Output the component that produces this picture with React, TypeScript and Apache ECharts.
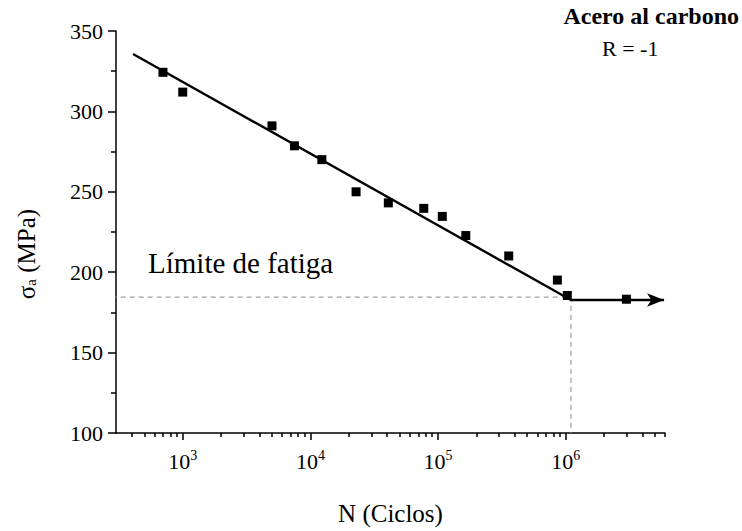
import React, { useEffect, useRef } from 'react';
import * as echarts from 'echarts';

// Measured fatigue data (cycles N, stress amplitude σa in MPa)
const cyclesData = [700, 1000, 5000, 7500, 12300, 22800, 40800, 77300, 108000, 165000, 358000, 861000, 1030000, 2990000];
const stressData = [324.3, 312, 291, 278.6, 270, 250, 243.1, 239.7, 234.7, 222.8, 210.1, 195.1, 185.5, 183.2];

// Basquin fit line + endurance plateau (last point carries the arrow head)
const fitCycles = [408, 1100000, 5900000];
const fitStress = [335.7, 182.7, 182.7];

// Fatigue-limit guide lines
const guideCycles = [236, 1100000, 1100000];
const guideStress = [184.5, 184.5, 100];

// Axis ticks
const xMajorTicks = [1e3, 1e4, 1e5, 1e6];
const xMinorTicks = [
  400, 500, 600, 700, 800, 900,
  2000, 3000, 4000, 5000, 6000, 7000, 8000, 9000,
  20000, 30000, 40000, 50000, 60000, 70000, 80000, 90000,
  200000, 300000, 400000, 500000, 600000, 700000, 800000, 900000,
  2000000, 3000000, 4000000, 5000000, 6000000,
];
const xMin = 300;
const xMax = 6000000;
const yMin = 100;
const yMax = 350;
const yStep = 50;

const SERIF = 'Liberation Serif';

export default function App() {
  const ref = useRef<HTMLDivElement>(null);

  useEffect(() => {
    document.body.style.margin = '0';
    if (!ref.current) return;
    const chart = echarts.init(ref.current, undefined, { renderer: 'svg' });
    const black = '#000';

    const scatterData = cyclesData.map((c, i) => [c, stressData[i]]);
    const fitData: any[] = fitCycles.map((c, i) => {
      if (i === fitCycles.length - 1) {
        return { value: [c, fitStress[i]], symbol: 'arrow', symbolSize: [10, 17], symbolRotate: -90 };
      }
      return { value: [c, fitStress[i]], symbol: 'none' };
    });
    const guideData = guideCycles.map((c, i) => [c, guideStress[i]]);

    const option: any = {
      animation: false,
      textStyle: { fontFamily: SERIF },
      grid: { left: 116, right: 77, top: 31, bottom: 94 },
      xAxis: [
        {
          type: 'log',
          logBase: 10,
          min: xMin,
          max: xMax,
          position: 'bottom',
          axisLine: { show: true, lineStyle: { color: black, width: 1.5 } },
          axisTick: { show: true, inside: false, length: 7, customValues: xMajorTicks, lineStyle: { color: black, width: 1.5 } },
          minorTick: { show: false },
          splitLine: { show: false },
          axisLabel: {
            customValues: xMajorTicks,
            margin: 15,
            formatter: (v: number) => `{b|10}{s|${Math.round(Math.log10(v))}}`,
            rich: {
              b: { fontFamily: SERIF, fontSize: 22, color: black },
              s: { fontFamily: SERIF, fontSize: 14, color: black, verticalAlign: 'top', padding: [0, 0, 12, 0] },
            },
          },
          name: 'N (Ciclos)',
          nameLocation: 'middle',
          nameGap: 68,
          nameTextStyle: { fontFamily: SERIF, fontSize: 25, color: black },
        },
        {
          type: 'log',
          logBase: 10,
          min: xMin,
          max: xMax,
          position: 'bottom',
          axisLine: { show: false },
          axisTick: { show: true, inside: false, length: 4, customValues: xMinorTicks, lineStyle: { color: black, width: 1.5 } },
          axisLabel: { show: false },
          splitLine: { show: false },
        },
      ],
      yAxis: {
        type: 'value',
        min: yMin,
        max: yMax,
        interval: yStep,
        axisLine: { show: true, lineStyle: { color: black, width: 1.5 } },
        axisTick: { show: true, inside: false, length: 8, lineStyle: { color: black, width: 1.5 } },
        minorTick: { show: true, splitNumber: 2, length: 5, lineStyle: { color: black, width: 1.5 } },
        splitLine: { show: false },
        minorSplitLine: { show: false },
        axisLabel: { fontFamily: SERIF, fontSize: 22, color: black, margin: 13 },
      },
      series: [
        {
          type: 'line',
          data: guideData,
          xAxisIndex: 0,
          clip: false,
          symbol: 'none',
          lineStyle: { color: '#8a8a8a', width: 1, type: [5, 4] },
          z: 1,
          silent: true,
        },
        {
          type: 'line',
          data: fitData,
          xAxisIndex: 0,
          clip: false,
          showSymbol: true,
          itemStyle: { color: black, opacity: 1 },
          lineStyle: { color: black, width: 2.4 },
          z: 2,
        },
        {
          type: 'scatter',
          data: scatterData,
          xAxisIndex: 0,
          symbol: 'rect',
          symbolSize: 9,
          itemStyle: { color: black, opacity: 1 },
          z: 3,
        },
      ],
      graphic: [
        {
          type: 'text',
          left: 148,
          top: 248,
          style: { text: 'Límite de fatiga', fontFamily: SERIF, fontSize: 29, fill: black },
        },
        {
          type: 'text',
          right: 3,
          top: 4,
          style: { text: 'Acero al carbono', fontFamily: SERIF, fontSize: 24, fontWeight: 'bold', fill: black },
        },
        {
          type: 'text',
          left: 602,
          top: 37,
          style: { text: 'R = -1', fontFamily: SERIF, fontSize: 22, fill: black },
        },
        {
          type: 'text',
          x: 26,
          y: 254,
          rotation: Math.PI / 2,
          style: {
            text: '{g|σ}{sub|a}{n| (MPa)}',
            align: 'center',
            verticalAlign: 'middle',
            rich: {
              g: { fontFamily: SERIF, fontSize: 25, fill: black, color: black },
              sub: { fontFamily: SERIF, fontSize: 15, fill: black, color: black, verticalAlign: 'bottom', padding: [10, 0, 0, 0] },
              n: { fontFamily: SERIF, fontSize: 25, fill: black, color: black },
            },
          },
        },
      ],
    };

    chart.setOption(option);
    return () => chart.dispose();
  }, []);

  return <div ref={ref} style={{ width: 742, height: 531 }} />;
}
